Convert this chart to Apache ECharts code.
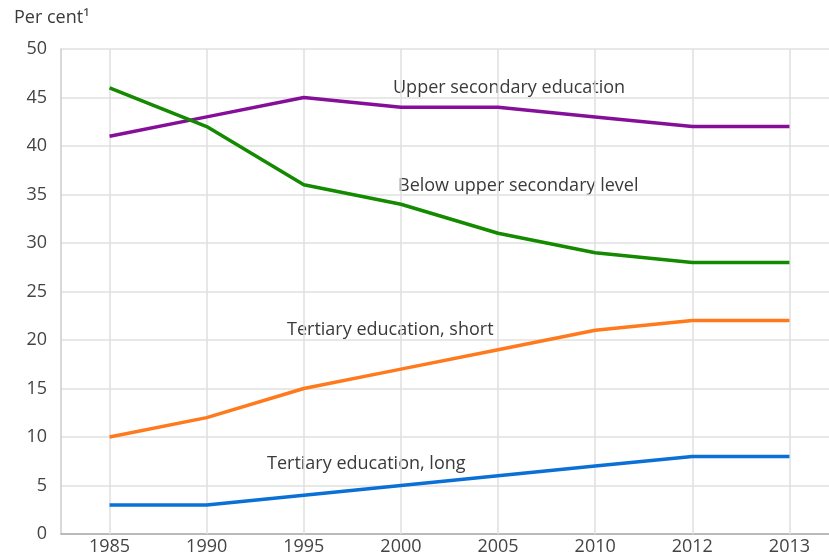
<!DOCTYPE html>
<html>
<head>
<meta charset="utf-8">
<script src="https://cdn.jsdelivr.net/npm/echarts@6/dist/echarts.min.js"></script>
<style>
  html, body { margin: 0; padding: 0; background: #fff; }
  #main { width: 829px; height: 557px; }
</style>
</head>
<body>
<div id="main"></div>
<script>
var years = ['1985', '1990', '1995', '2000', '2005', '2010', '2012', '2013'];
var upperSecondary = [41, 43, 45, 44, 44, 43, 42, 42];
var belowUpper = [46, 42, 36, 34, 31, 29, 28, 28];
var tertiaryShort = [10, 12, 15, 17, 19, 21, 22, 22];
var tertiaryLong = [3, 3, 4, 5, 6, 7, 8, 8];

var font = '"Open Sans", "Noto Sans", sans-serif';

var myChart = echarts.init(document.getElementById('main'));

function lineSeries(name, data, color) {
    return {
        name: name,
        type: 'line',
        data: data,
        symbol: 'none',
        lineStyle: { color: color, width: 3.5 },
        itemStyle: { color: color },
        z: 3
    };
}

function annot(text, x, y) {
    return {
        type: 'text',
        left: x,
        top: y,
        style: { text: text, font: '18px ' + font, fill: '#3a3a3a' }
    };
}

myChart.setOption({
    animation: false,
    grid: { left: 61, top: 49, width: 777, height: 485, outerBoundsMode: 'none' },
    xAxis: {
        type: 'category',
        data: years,
        boundaryGap: true,
        axisLine: { lineStyle: { color: '#aaa', width: 1.5 } },
        // ticks drawn upward through the plot act as the vertical grid
        axisTick: { show: true, inside: true, length: 485, alignWithLabel: true,
                    lineStyle: { color: '#e0e0e0', width: 1.5 } },
        axisLabel: { color: '#444', fontSize: 18, fontFamily: font, margin: 4 },
        splitLine: { show: false }
    },
    yAxis: {
        type: 'value',
        min: 0,
        max: 50,
        interval: 5,
        axisLine: { show: true, lineStyle: { color: '#ccc', width: 1.5 } },
        axisTick: { show: false },
        axisLabel: { color: '#444', fontSize: 18, fontFamily: font, margin: 14 },
        splitLine: { lineStyle: { color: '#e0e0e0', width: 1.5 } }
    },
    graphic: [
        annot('Per cent\u00b9', 14, 9),
        annot('Upper secondary education', 393, 79),
        annot('Below upper secondary level', 398, 177),
        annot('Tertiary education, short', 287, 321),
        annot('Tertiary education, long', 267, 455)
    ],
    series: [
        lineSeries('Upper secondary education', upperSecondary, '#860f99'),
        lineSeries('Below upper secondary level', belowUpper, '#138a00'),
        lineSeries('Tertiary education, short', tertiaryShort, '#ff7a1c'),
        lineSeries('Tertiary education, long', tertiaryLong, '#0a70d6')
    ]
});
</script>
</body>
</html>
